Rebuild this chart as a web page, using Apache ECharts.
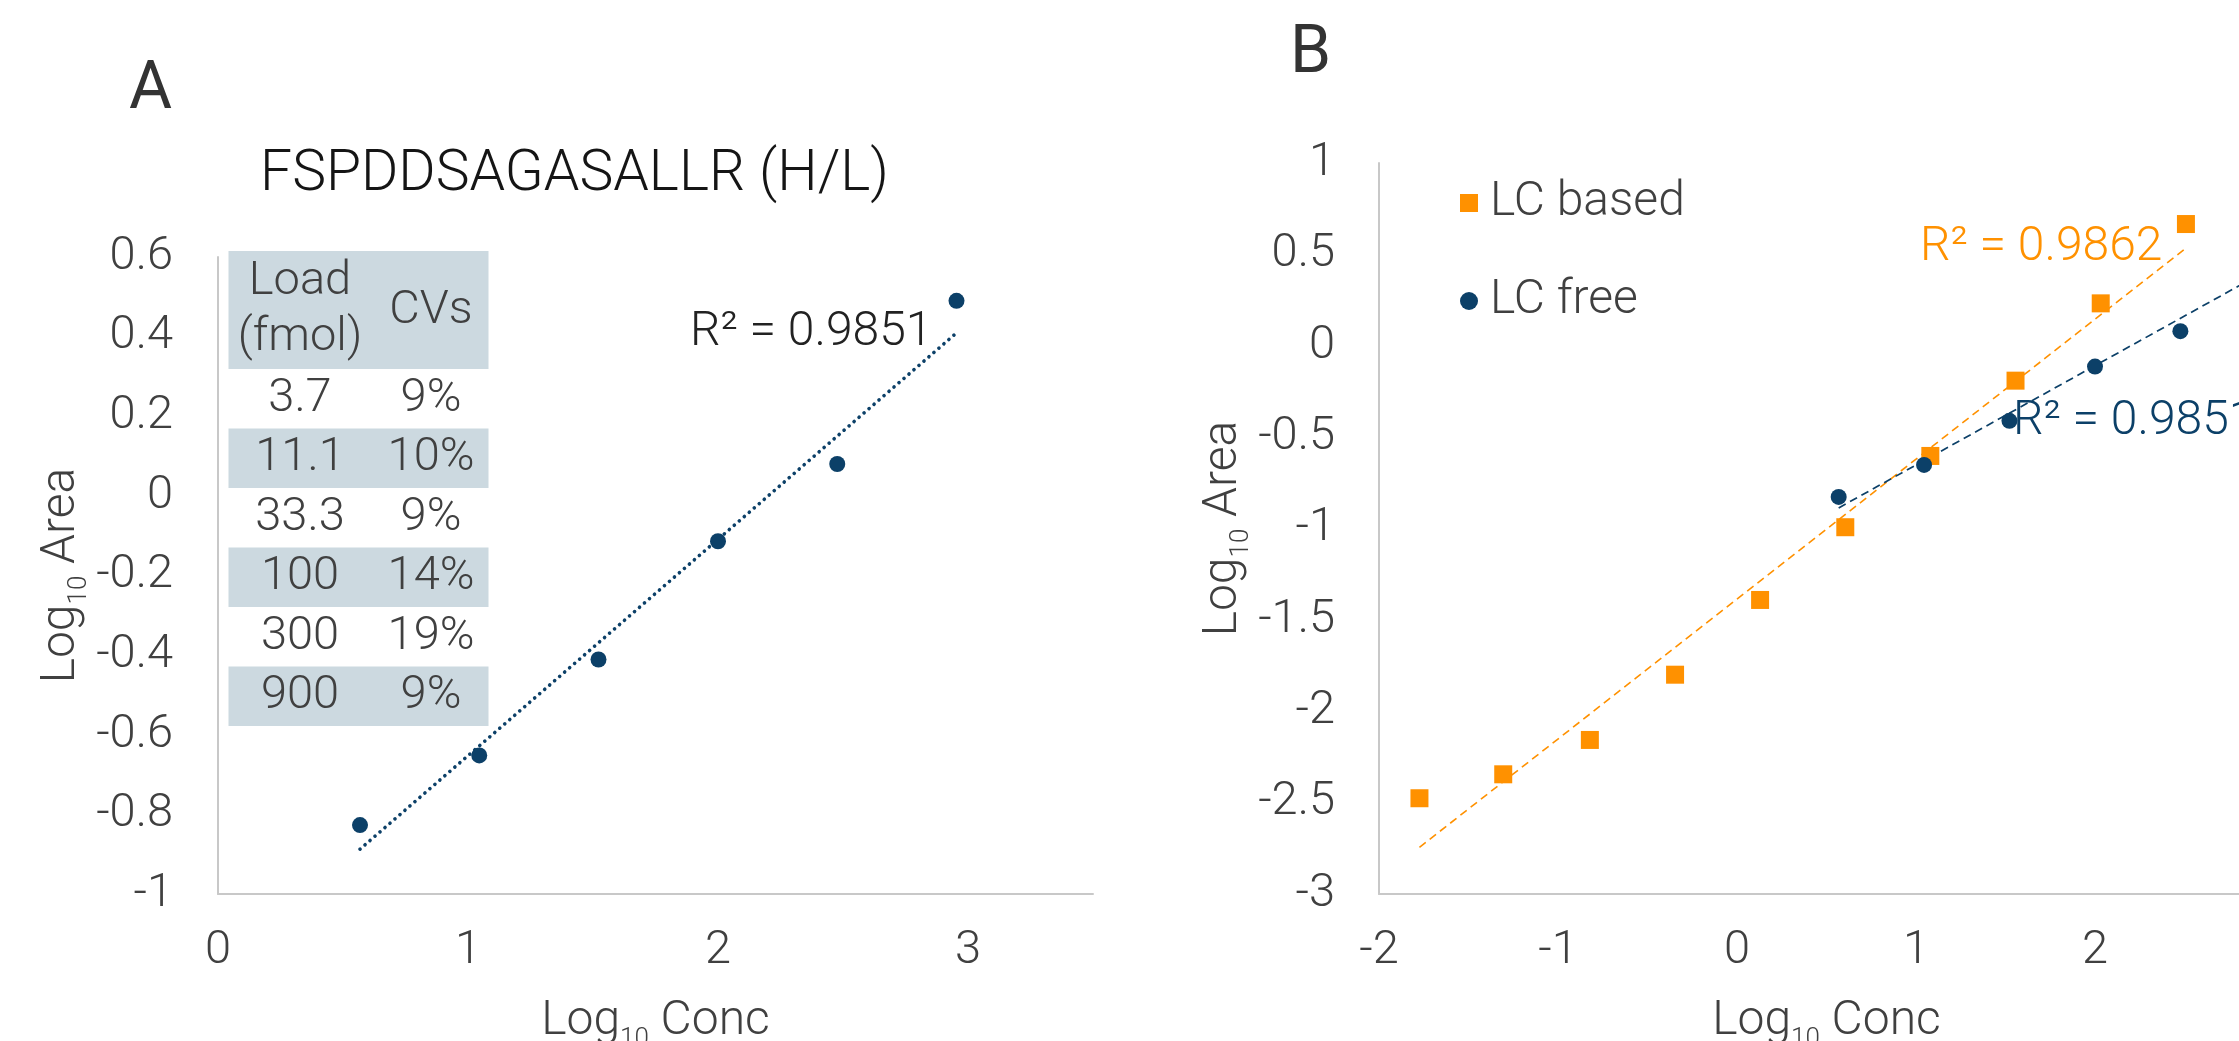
<!DOCTYPE html>
<html><head><meta charset="utf-8">
<script src="https://cdn.jsdelivr.net/npm/echarts@6/dist/echarts.min.js"></script>
<style>html,body{margin:0;padding:0;background:#fff}#c{width:2239px;height:1041px}</style>
</head><body><div id="c"></div>
<script>
// ---------- Panel A data ----------
const concA = [0.568, 1.045, 1.522, 2.000, 2.477, 2.954];
const areaA = [-0.827, -0.652, -0.411, -0.114, 0.080, 0.490];
const tableHeadLoad = ['Load', '(fmol)'];
const tableHeadCV = 'CVs';
const tableLoads = ['3.7', '11.1', '33.3', '100', '300', '900'];
const tableCVs = ['9%', '10%', '9%', '14%', '19%', '9%'];
const titleA = 'FSPDDSAGASALLR (H/L)';
const r2A = 'R² = 0.9851';
// ---------- Panel B data ----------
const seriesNamesB = ['LC based', 'LC free'];
const concLCBased = [-1.774, -1.306, -0.822, -0.346, 0.129, 0.605, 1.080, 1.556, 2.032, 2.508];
const areaLCBased = [-2.476, -2.345, -2.157, -1.800, -1.391, -0.993, -0.603, -0.191, 0.232, 0.666];
const concLCFree = [0.568, 1.045, 1.522, 2.000, 2.477, 2.954];
const areaLCFree = [-0.827, -0.652, -0.411, -0.114, 0.080, 0.490];
const r2LCBased = 'R² = 0.9862';
const r2LCFree = 'R² = 0.9851';

// ---------- helpers ----------
function zip(xs, ys) { return xs.map((x, i) => [x, ys[i]]); }
function trend(xs, ys) {
  const n = xs.length;
  const mx = xs.reduce((a, b) => a + b, 0) / n;
  const my = ys.reduce((a, b) => a + b, 0) / n;
  let sxy = 0, sxx = 0;
  for (let i = 0; i < n; i++) { sxy += (xs[i] - mx) * (ys[i] - my); sxx += (xs[i] - mx) ** 2; }
  const m = sxy / sxx, b = my - m * mx;
  const x0 = Math.min(...xs), x1 = Math.max(...xs);
  return [[x0, m * x0 + b], [x1, m * x1 + b]];
}

const NAVY = '#0C4068';
const ORANGE = '#FF9100';
const FONT = 'Roboto';
const LABEL = '#404040';
const AXIS = '#C8C8C8';

const axisLabel = { fontSize: 47, lineHeight: 47, color: LABEL, fontFamily: FONT, fontWeight: 300 };
const nameStyle = {
  fontSize: 48, color: LABEL, fontFamily: FONT, fontWeight: 300,
  rich: {
    m: { fontSize: 48, lineHeight: 48, fontFamily: FONT, fontWeight: 300, color: LABEL },
    s: { fontSize: 26, lineHeight: 26, fontFamily: FONT, fontWeight: 300, color: LABEL, padding: [34, 0, 0, 0] }
  }
};
const baseAxis = {
  axisLine: { show: true, onZero: false, lineStyle: { color: AXIS, width: 2 } },
  axisTick: { show: false },
  splitLine: { show: false }
};

// ---------- table graphics (panel A) ----------
const TX = 228.5, TW = 260, HEAD_TOP = 251, HEAD_H = 118, ROW_H = 59.5;
const COL1 = 300, COL2 = 431;
const TABLE_FILL = '#CCD9E0';
const tableEls = [];
tableEls.push({ type: 'rect', shape: { x: TX, y: HEAD_TOP, width: TW, height: HEAD_H }, style: { fill: TABLE_FILL } });
tableLoads.forEach((v, i) => {
  const top = HEAD_TOP + HEAD_H + i * ROW_H;
  if (i % 2 === 1) tableEls.push({ type: 'rect', shape: { x: TX, y: top, width: TW, height: ROW_H }, style: { fill: TABLE_FILL } });
});
const tTxt = (t, x, y) => ({ type: 'text', style: { text: t, x: x, y: y, align: 'center', verticalAlign: 'middle', font: '300 47px Roboto', fill: LABEL } });
tableEls.push(tTxt(tableHeadLoad[0], COL1, 282));
tableEls.push(tTxt(tableHeadLoad[1], COL1, 338));
tableEls.push(tTxt(tableHeadCV, COL2, 311));
tableLoads.forEach((v, i) => {
  const cy = HEAD_TOP + HEAD_H + i * ROW_H + ROW_H / 2;
  tableEls.push(tTxt(v, COL1, cy));
  tableEls.push(tTxt(tableCVs[i], COL2, cy));
});

const txt = (t, x, y, size, fill, align, weight) => ({ type: 'text', style: { text: t, x: x, y: y, align: align || 'left', verticalAlign: 'middle', font: (weight || 300) + ' ' + size + 'px Roboto', fill: fill } });

const option = {
  animation: false,
  backgroundColor: '#fff',
  grid: [
    { left: 218, top: 257, width: 875, height: 637, outerBoundsMode: 'none', containLabel: false },
    { left: 1379, top: 163, width: 895, height: 731, outerBoundsMode: 'none', containLabel: false }
  ],
  xAxis: [
    Object.assign({}, baseAxis, {
      gridIndex: 0, type: 'value', min: 0, max: 3.5, interval: 1,
      axisLabel: Object.assign({}, axisLabel, { margin: 34, formatter: v => Number.isInteger(v) ? String(v) : '' }),
      name: '{m|Log}{s|10}{m| Conc}', nameLocation: 'middle', nameGap: 104, nameTextStyle: nameStyle
    }),
    Object.assign({}, baseAxis, {
      gridIndex: 1, type: 'value', min: -2, max: 3, interval: 1,
      axisLabel: Object.assign({}, axisLabel, { margin: 34 }),
      name: '{m|Log}{s|10}{m| Conc}', nameLocation: 'middle', nameGap: 104, nameTextStyle: nameStyle
    })
  ],
  yAxis: [
    Object.assign({}, baseAxis, {
      gridIndex: 0, type: 'value', min: -1, max: 0.6, interval: 0.2,
      axisLabel: Object.assign({}, axisLabel, { margin: 45 }),
      name: '{m|Log}{s|10}{m| Area}', nameLocation: 'middle', nameGap: 128, nameTextStyle: nameStyle
    }),
    Object.assign({}, baseAxis, {
      gridIndex: 1, type: 'value', min: -3, max: 1, interval: 0.5,
      axisLabel: Object.assign({}, axisLabel, { margin: 44 }),
      name: '{m|Log}{s|10}{m| Area}', nameLocation: 'middle', nameGap: 130, nameTextStyle: nameStyle
    })
  ],
  legend: {
    data: seriesNamesB, orient: 'vertical', left: 1455, top: 173,
    itemWidth: 18, itemHeight: 18, itemGap: 48,
    textStyle: { fontSize: 48, lineHeight: 50, color: LABEL, fontFamily: FONT, fontWeight: 300, padding: [0, 0, 0, 7] }
  },
  series: [
    { type: 'line', xAxisIndex: 0, yAxisIndex: 0, data: trend(concA, areaA), showSymbol: false, symbol: 'none', silent: true,
      lineStyle: { color: NAVY, width: 3.6, type: [0.1, 6.5], cap: 'round' }, z: 1 },
    { type: 'scatter', xAxisIndex: 0, yAxisIndex: 0, data: zip(concA, areaA), symbol: 'circle', symbolSize: 16,
      itemStyle: { color: NAVY, opacity: 1 }, z: 2 },
    { type: 'line', xAxisIndex: 1, yAxisIndex: 1, data: trend(concLCBased, areaLCBased), showSymbol: false, symbol: 'none', silent: true,
      lineStyle: { color: ORANGE, width: 1.6, type: [8, 5] }, z: 1 },
    { type: 'line', xAxisIndex: 1, yAxisIndex: 1, data: trend(concLCFree, areaLCFree), showSymbol: false, symbol: 'none', silent: true,
      lineStyle: { color: NAVY, width: 1.7, type: [8, 5] }, z: 1 },
    { name: seriesNamesB[0], type: 'scatter', xAxisIndex: 1, yAxisIndex: 1, data: zip(concLCBased, areaLCBased), symbol: 'rect', symbolSize: 18,
      itemStyle: { color: ORANGE, opacity: 1 }, z: 2 },
    { name: seriesNamesB[1], type: 'scatter', xAxisIndex: 1, yAxisIndex: 1, data: zip(concLCFree, areaLCFree), symbol: 'circle', symbolSize: 16,
      itemStyle: { color: NAVY, opacity: 1 }, z: 3 }
  ],
  graphic: [
    txt('A', 129, 91.5, 66, '#333', 'left', 400),
    txt('B', 1290, 55, 66, '#333', 'left', 400),
    txt(titleA, 574.5, 175.5, 57, '#151515', 'center', 300),
    txt(r2A, 690, 332.5, 48, '#222', 'left', 300),
    txt(r2LCBased, 1920, 248, 48, ORANGE, 'left', 300),
    txt(r2LCFree, 2013, 421.5, 48, NAVY, 'left', 300)
  ].concat(tableEls)
};

const chart = echarts.init(document.getElementById('c'), null, { renderer: 'canvas', width: 2239, height: 1041 });
chart.setOption(option);
</script>
</body></html>
